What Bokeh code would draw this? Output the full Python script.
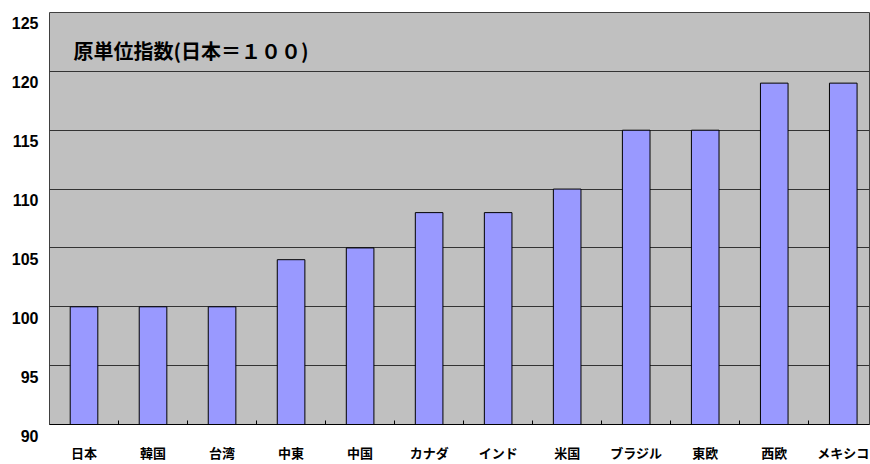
from bokeh.plotting import figure
from bokeh.layouts import row
from bokeh.models import Range1d, FixedTicker, ColumnDataSource, Label
from bokeh.core.properties import value
from bokeh.embed import file_html
from bokeh.resources import INLINE

categories = ["日本", "韓国", "台湾", "中東", "中国", "カナダ", "インド", "米国", "ブラジル", "東欧", "西欧", "メキシコ"]
values = [100, 100, 100, 104, 105, 108, 108, 110, 115, 115, 119, 119]
y_ticks = [90, 95, 100, 105, 110, 115, 120, 125]
y_tick_labels = [str(t) for t in y_ticks]
title_text = "原単位指数(日本＝１００)"

xs = list(range(len(categories)))
Y0, Y1 = 90, 125
H, TOP, BOT = 464, 12, 39
ppu = (H - TOP - BOT) / (Y1 - Y0)

# main plot
p = figure(width=822, height=H, output_backend="svg", toolbar_location=None,
           x_range=Range1d(-0.5, 11.38), y_range=Range1d(Y0, Y1),
           x_axis_location="below", y_axis_location=None,
           min_border_left=1, min_border_right=1, min_border_top=TOP, min_border_bottom=BOT)
p.background_fill_color = "#C0C0C0"
p.border_fill_color = "white"
p.outline_line_color = "#404040"
p.outline_line_width = 1

src = ColumnDataSource(dict(x=xs, top=values))
p.vbar(x="x", top="top", bottom=Y0, width=0.4, source=src,
       fill_color="#9999FF", line_color="black", line_width=1)

p.xgrid.visible = False
p.ygrid.ticker = FixedTicker(ticks=y_ticks)
p.ygrid.grid_line_color = "#333333"
p.ygrid.grid_line_width = 1

xa = p.xaxis[0]
xa.ticker = FixedTicker(ticks=xs, minor_ticks=[x + 0.5 for x in xs[:-1]])
xa.major_label_overrides = {x: c for x, c in zip(xs, categories)}
xa.major_tick_line_color = None
xa.major_tick_in = 0
xa.major_tick_out = 0
xa.minor_tick_in = 4
xa.minor_tick_out = 0
xa.minor_tick_line_color = "black"
xa.axis_line_color = "black"
xa.major_label_standoff = 18
xa.major_label_text_font = "Noto Sans CJK JP"
xa.major_label_text_font_style = "bold"
xa.major_label_text_font_size = "13px"
xa.major_label_text_color = "black"

p.add_layout(Label(x=-0.5, y=Y1, x_offset=24, y_offset=-38, text=title_text,
                   text_align="left", text_baseline="middle",
                   text_font="Noto Sans CJK JP", text_font_style="bold",
                   text_font_size="20px", text_color="black"))

# y tick label strip (labels sit slightly below their gridlines, as in the reference)
lp = figure(frame_width=48, frame_height=H, output_backend="svg", toolbar_location=None,
            x_range=Range1d(0, 1),
            y_range=Range1d(Y0 - BOT / ppu, Y1 + TOP / ppu),
            x_axis_location=None, y_axis_location=None,
            min_border=0, min_border_left=0, min_border_right=0,
            min_border_top=0, min_border_bottom=0)
lp.outline_line_color = None
lp.background_fill_color = "white"
lp.border_fill_color = "white"
lp.xgrid.visible = False
lp.ygrid.visible = False
lsrc = ColumnDataSource(dict(x=[1] * len(y_ticks), y=y_ticks, t=y_tick_labels))
lp.text(x="x", y="y", text="t", source=lsrc, x_offset=-10, y_offset=-2,
        text_align="right", text_baseline="middle",
        text_font=value("Liberation Sans"), text_font_style="bold",
        text_font_size="16px", text_color="black")

layout = row(lp, p, spacing=0)
open("out.html", "w").write(file_html(layout, INLINE))
